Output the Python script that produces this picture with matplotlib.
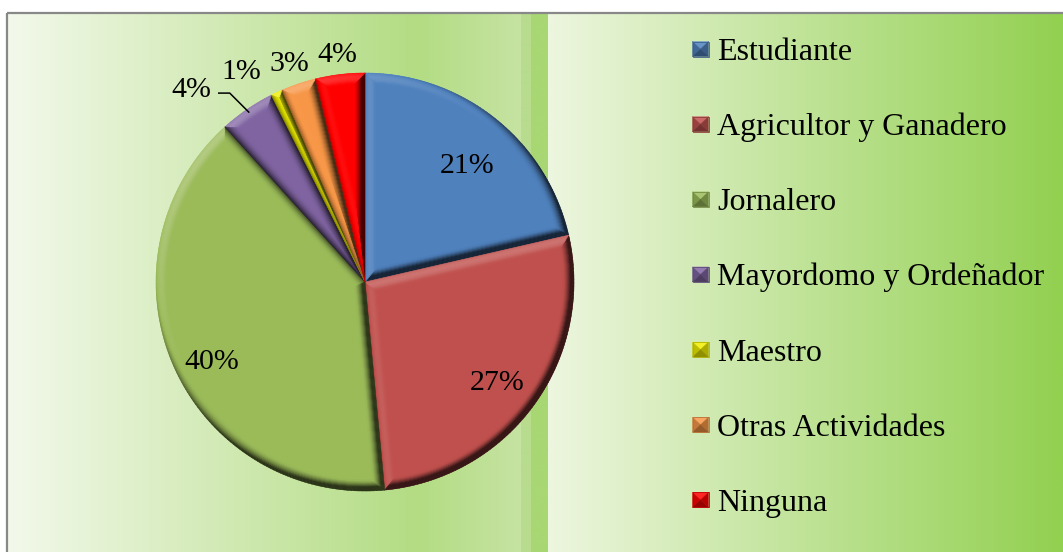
import numpy as np
import matplotlib
matplotlib.use('Agg')
import matplotlib.pyplot as plt
from matplotlib.collections import PolyCollection
from matplotlib.patches import Polygon
from matplotlib.colors import to_rgb

# ---------------- data ----------------
categories = ["Estudiante", "Agricultor y Ganadero", "Jornalero",
              "Mayordomo y Ordeñador", "Maestro", "Otras Actividades", "Ninguna"]
values = [21.4, 27.1, 39.8, 4.3, 0.9, 2.7, 3.8]
colors = ["#4F81BD", "#C0504D", "#9BBB59", "#8064A2", "#EEEE00", "#F79646", "#FF0000"]

# label placement (radius factor, angular offset in degrees from slice middle)
label_r = [0.75, 0.785, 0.82, 1.25, 1.18, 1.12, 1.11]
label_da = [-1.9, -0.8, 2.6, 7.3, 5.1, 0.4, -0.1]

W, H = 1063, 552
fig = plt.figure(figsize=(W / 100, H / 100), dpi=100)
ax = fig.add_axes([0, 0, 1, 1])
FONT = "Liberation Serif"


def Y(y):
    return H - y


def hgrad(x0, x1, y0, y1, stops, z):
    n = 400
    xs = np.linspace(0, 1, n)
    fr = [s[0] for s in stops]
    cols = np.array([to_rgb(s[1]) for s in stops])
    img = np.stack([np.interp(xs, fr, cols[:, k]) for k in range(3)], axis=-1)[None, :, :]
    ax.imshow(img, extent=(x0, x1, Y(y1), Y(y0)), aspect='auto', zorder=z,
              interpolation='bilinear')


# ---------------- backgrounds ----------------
hgrad(7, 521, 13, H, [(0, "#f3f9eb"), (0.8, "#b3dc83"), (1.0, "#c6e3a2")], 0)
hgrad(521, 531, 13, H, [(0, "#b8dc8e"), (1, "#b8dc8e")], 0)
hgrad(531, 548, 13, H, [(0, "#a8d773"), (1, "#a8d773")], 0)
hgrad(548, W, 13, H, [(0, "#edf6df"), (1, "#92d050")], 0)
ax.plot([6.5, 6.5], [Y(H), Y(12.5)], color="#888888", lw=1.6, zorder=1,
        solid_capstyle='butt')
ax.plot([6.5, W], [Y(12.5), Y(12.5)], color="#888888", lw=1.6, zorder=1,
        solid_capstyle='butt')

# ---------------- pie ----------------
cx, cy, R = 365, Y(282), 209
wedges, _ = ax.pie(values, colors=colors, startangle=90, counterclock=False,
                   center=(cx, cy), radius=R,
                   wedgeprops=dict(linewidth=0, zorder=3))

Lv = np.array([-0.45, 0.55, 0.70])
Lv = Lv / np.linalg.norm(Lv)


def inset(t1, t2, d, n):
    rr = R - d
    span = np.radians(t2 - t1)
    half = span / 2
    if d == 0:
        apd = 0.0
    else:
        apd = d / np.sin(half)
    if apd >= rr * 0.97:
        return None
    a = np.arcsin(d / rr)
    if 2 * a >= span:
        return None
    bis = np.radians((t1 + t2) / 2)
    apex = np.array([cx + apd * np.cos(bis), cy + apd * np.sin(bis)])
    th = np.linspace(np.radians(t1) + a, np.radians(t2) - a, n)
    arc = np.column_stack([cx + rr * np.cos(th), cy + rr * np.sin(th)])
    return np.vstack([apex[None, :], arc])


def shade(base, I, hl=0.6):
    if I < 1:
        return tuple(np.clip(base * max(I, 0.28), 0, 1))
    return tuple(np.clip(base + (1 - base) * min(1.0, (I - 1) * hl), 0, 1))


bw, K = 11.0, 11
for wdg, col in zip(wedges, colors):
    t1, t2 = wdg.theta1, wdg.theta2
    base = np.array(to_rgb(col))
    ds = np.linspace(0, bw, K + 1)
    n = max(4, int((t2 - t1) / 1.0))
    levels = []
    for d in ds:
        p = inset(t1, t2, d, n)
        if p is None:
            break
        levels.append(p)
    polys, fcs = [], []
    for j in range(len(levels) - 1):
        A, B = levels[j], levels[j + 1]
        tm = (ds[j] + ds[j + 1]) / 2 / bw
        phi = np.radians(72) * (1 - tm) ** 1.2
        m = len(A)
        for k in range(m):
            k2 = (k + 1) % m
            p, q = A[k], A[k2]
            dx, dy = q - p
            ln = np.hypot(dx, dy)
            if ln < 1e-9:
                continue
            nx, ny = dy / ln, -dx / ln
            n3 = np.array([nx * np.sin(phi), ny * np.sin(phi), np.cos(phi)])
            I = (n3 @ Lv) / Lv[2]
            c = shade(base, I)
            polys.append([A[k], A[k2], B[k2], B[k]])
            fcs.append(c)
    if polys:
        ax.add_collection(PolyCollection(polys, facecolors=fcs, edgecolors=fcs,
                                         linewidths=0.4, zorder=4))

# ---------------- pie labels ----------------
for i, (wdg, v) in enumerate(zip(wedges, values)):
    mid = (wdg.theta1 + wdg.theta2) / 2 + label_da[i]
    rr = R * label_r[i]
    x = cx + rr * np.cos(np.radians(mid))
    y = cy + rr * np.sin(np.radians(mid))
    ax.text(x, y - 10.5, f"{round(v)}%", fontsize=21.5, family=FONT,
            ha='center', va='baseline', zorder=6)
    if i == 3:
        m0 = np.radians((wdg.theta1 + wdg.theta2) / 2)
        ex, ey = cx + 0.985 * R * np.cos(m0), cy + 0.985 * R * np.sin(m0)
        elx, ely = ex - 19, ey + 19
        ax.plot([elx - 11, elx, ex], [ely, ely, ey], color='black', lw=1.1, zorder=6)

# ---------------- legend ----------------
leg_y0, leg_dy = 49, 75.15
for i, (cat, col) in enumerate(zip(categories, colors)):
    yc = Y(leg_y0 + i * leg_dy)
    x0, x1 = 692.5, 708.5
    y0, y1 = yc - 7.5, yc + 7.5
    xm, ym = (x0 + x1) / 2, (y0 + y1) / 2
    base = np.array(to_rgb(col))
    tris = [([(x0, y1), (x1, y1), (xm, ym)], 1.25),
            ([(x0, y0), (x0, y1), (xm, ym)], 0.8),
            ([(x1, y0), (x1, y1), (xm, ym)], 0.72),
            ([(x0, y0), (x1, y0), (xm, ym)], 0.6)]
    for pts, f in tris:
        ax.add_patch(Polygon(pts, closed=True, facecolor=shade(base, f),
                             edgecolor=shade(base, f), lw=0.3, zorder=5))
    ax.add_patch(Polygon([(x0, y0), (x1, y0), (x1, y1), (x0, y1)], closed=True,
                         fill=False, edgecolor=shade(base, 0.75), lw=0.6, zorder=5))
    ax.text(717, yc - 11, cat, fontsize=23, family=FONT, ha='left',
            va='baseline', zorder=6)

ax.set_xlim(0, W)
ax.set_ylim(0, H)
ax.set_aspect('auto')
ax.axis('off')
fig.savefig("out.png", dpi=100, facecolor='white')
